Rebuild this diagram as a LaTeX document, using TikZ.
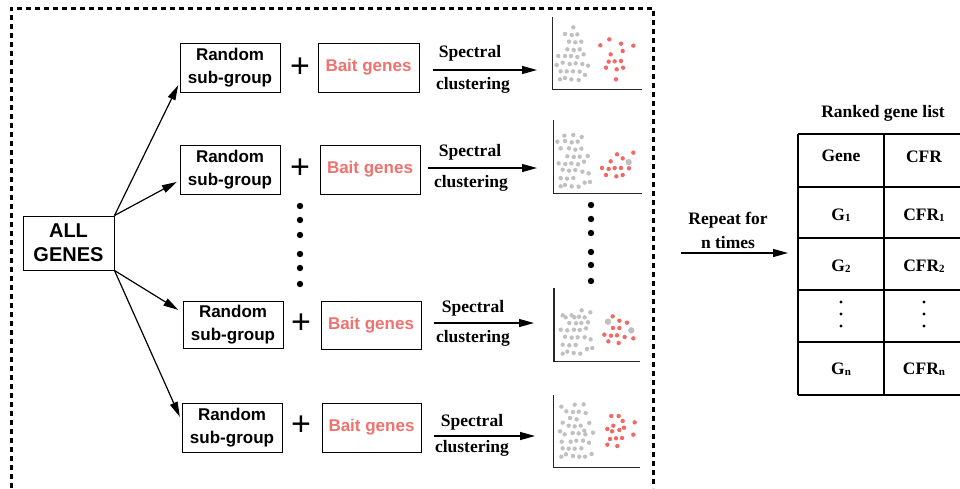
\documentclass[tikz,border=0pt]{standalone}
\usepackage{fontspec}
\setmainfont{Liberation Serif}
\newfontfamily\arialfont{Liberation Sans}
\usetikzlibrary{arrows.meta}
\definecolor{baitred}{RGB}{240,114,110}
\definecolor{dotgray}{RGB}{192,192,192}
\definecolor{dotred}{RGB}{243,104,100}
\newcommand{\lowidx}[1]{\raisebox{-1pt}{\fontsize{11}{11}\selectfont #1}}

\begin{document}
\begin{tikzpicture}[x=1pt, y=-1pt,
    grpbox/.style={draw, line width=1pt, minimum width=100pt, minimum height=49pt,
      inner sep=0pt, align=center, font=\arialfont\bfseries\fontsize{17}{23}\selectfont},
    baitbox/.style={grpbox, text=baitred},
    pluslbl/.style={font=\arialfont\fontsize{34}{34}\selectfont, inner sep=0pt},
    txt/.style={font=\bfseries\fontsize{17.5}{24}\selectfont, inner sep=0pt, align=center},
    arr/.style={-{Triangle[length=15pt,width=8pt]}, line width=1.2pt}]
  \useasboundingbox (0,0) rectangle (960,488);

  % dotted frame, open at the bottom
  \draw[line width=3pt, dash pattern=on 5pt off 4pt] (11,488) -- (11,8) -- (653,8) -- (653,488);

  \node[grpbox, minimum width=91pt, minimum height=54pt,
    font=\arialfont\bfseries\fontsize{20}{24}\selectfont] (all) at (68.5,243) {ALL\\GENES};

  % row 1
  \node[grpbox] (rsg1) at (230,67.5) {Random\\sub-group};
  \node[pluslbl] (plus1) at (300,68) {+};
  \node[baitbox, minimum width=101pt] (bait1) at (368.5,67.5) {Bait genes};
  \coordinate (sc1) at (537,70);
  \draw[arr, shorten <=13pt] (bait1.east |- sc1) -- (sc1);
  \node[txt] (spec1) at (470,53) {Spectral};
  \node[txt] (clus1) at (473,85) {clustering};

  % row 2
  \node[grpbox] (rsg2) at (230,169.5) {Random\\sub-group};
  \node[pluslbl] (plus2) at (300,169) {+};
  \node[baitbox] (bait2) at (370,169.5) {Bait genes};
  \coordinate (sc2) at (537,168);
  \draw[arr, shorten <=7pt] (bait2.east |- sc2) -- (sc2);
  \node[txt] (spec2) at (470,152) {Spectral};
  \node[txt] (clus2) at (471,183) {clustering};

  % row 3
  \node[grpbox, minimum height=47pt] (rsg3) at (233,324.5) {Random\\sub-group};
  \node[pluslbl] (plus3) at (301,324) {+};
  \node[baitbox, minimum height=48pt] (bait3) at (371,325) {Bait genes};
  \coordinate (sc3) at (534,323);
  \draw[arr, shorten <=12pt] (bait3.east |- sc3) -- (sc3);
  \node[txt] (spec3) at (473,308) {Spectral};
  \node[txt] (clus3) at (473,338) {clustering};

  % row 4
  \node[grpbox] (rsg4) at (232,427.5) {Random\\sub-group};
  \node[pluslbl] (plus4) at (301,426) {+};
  \node[baitbox, minimum width=99pt] (bait4) at (371.5,427.5) {Bait genes};
  \coordinate (sc4) at (535,436);
  \draw[arr, shorten <=12pt] (bait4.east |- sc4) -- (sc4);
  \node[txt] (spec4) at (472,422) {Spectral};
  \node[txt] (clus4) at (472,448) {clustering};

  % fan out
  \draw[arr, shorten >=3pt] (all.north east) -- ([yshift=10pt]rsg1.south west);
  \draw[arr, shorten >=3pt] (all.north east) -- ([yshift=-11pt]rsg2.west);
  \draw[arr, shorten >=5pt] (all.south east) -- ([yshift=12pt]rsg3.west);
  \draw[arr, shorten >=4pt] (all.south east) -- ([yshift=7pt]rsg4.west);

  % vertical ellipses
  \foreach \y in {206,220,235,254,268,284} \fill (300,\y) circle (3.2);
  \foreach \y in {205,219,233,252,265,281} \fill (591,\y) circle (3.2);

  % scatter plots
  \begin{scope}[xshift=540pt, yshift=-10pt, x=0.3333pt, y=-0.3333pt]
    \draw[line width=1.2pt, black!85] (37,20) -- (37,238) -- (305,238);
    \foreach \p in {(100,52),(75,72),(95,75),(112,73),(87,95),(106,97),(124,95),(82,118),(101,120),(119,118),(55,138),(75,138),(93,138),(112,141),(131,133),(50,165),(68,158),(89,162),(107,160),(127,162),(144,167),(62,184),(80,184),(99,184),(119,185),(135,195),(60,208),(75,204),(94,208),(116,210)}
      \fill[dotgray] \p circle (6.6);
    \foreach \p in {(181,106),(208,88),(243,101),(280,107),(248,123),(212,133),(206,155),(224,154),(243,153),(198,173),(230,178),(249,173),(228,208)}
      \fill[dotred] \p circle (6.6);
  \end{scope}
  \begin{scope}[xshift=540pt, yshift=-115pt, x=0.3333pt, y=-0.3333pt]
    \draw[line width=1.2pt, black!85] (40,15) -- (40,235) -- (305,235);
    \foreach \p in {(73,62),(100,60),(125,66),(52,80),(75,78),(95,82),(113,80),(62,100),(87,100),(106,104),(124,101),(82,124),(101,126),(119,125),(143,123),(56,145),(76,147),(94,145),(114,148),(132,140),(68,164),(87,167),(106,165),(127,170),(146,175),(62,189),(81,191),(100,189),(134,203),(150,201),(62,214),(75,210),(95,214),(116,215)}
      \fill[dotgray] \p circle (6.6);
    \fill[dotgray] (266,141) circle (9.5);
    \foreach \p in {(231,118),(280,113),(212,139),(248,130),(186,159),(206,162),(224,159),(243,159),(267,160),(198,180),(229,184),(248,180)}
      \fill[dotred] \p circle (6.6);
  \end{scope}
  \begin{scope}[xshift=540pt, yshift=-285pt, x=0.3333pt, y=-0.3333pt]
    \draw[line width=1.2pt, black!85] (42,10) -- (42,230) -- (300,230);
    \foreach \p in {(125,76),(68,91),(77,97),(95,91),(103,97),(117,95),(134,97),(151,82),(88,114),(108,115),(124,114),(144,112),(62,134),(82,136),(102,134),(119,135),(138,130),(75,155),(95,158),(113,157),(134,157),(152,163),(68,179),(88,181),(107,180),(141,192),(157,189),(68,206),(82,200),(101,204),(121,206)}
      \fill[dotgray] \p circle (6.6);
    \fill[dotgray] (204,110) circle (9.5);
    \fill[dotgray] (274,136) circle (9.5);
    \foreach \p in {(218,94),(238,107),(261,113),(219,129),(238,129),(193,149),(213,152),(231,151),(254,156),(280,160),(205,169),(236,174)}
      \fill[dotred] \p circle (6.6);
  \end{scope}
  \begin{scope}[xshift=540pt, yshift=-390pt, x=0.3333pt, y=-0.3333pt]
    \draw[line width=1.2pt, black!85] (40,15) -- (40,232) -- (300,232);
    \foreach \p in {(64,50),(104,44),(131,43),(79,64),(99,66),(116,65),(137,69),(90,84),(110,88),(68,98),(86,107),(104,109),(122,107),(148,99),(60,124),(74,133),(98,129),(116,130),(133,122),(136,133),(159,128),(65,155),(92,155),(109,152),(129,152),(147,158),(68,175),(86,176),(104,176),(124,175),(78,193),(155,192),(64,200),(99,198),(118,200),(135,200)}
      \fill[dotgray] \p circle (6.6);
    \foreach \p in {(214,78),(236,78),(248,93),(284,97),(220,107),(238,120),(252,113),(202,117),(216,124),(280,134),(210,147),(228,145),(246,144),(202,164),(232,168)}
      \fill[dotred] \p circle (6.6);
  \end{scope}

  % repeat arrow
  \node[txt] (rep) at (728,230) {Repeat for\\n times};
  \coordinate (repA) at (681,253);
  \coordinate (repB) at (788,253);
  \draw[arr] (repA) -- (repB);

  % ranked table
  \node[txt] (title) at (883,113) {Ranked gene list};
  \draw[line width=1.6pt] (798,134) -- (960,134) (798,187) -- (960,187) (798,238) -- (960,238)
    (798,290) -- (960,290) (798,342) -- (960,342) (798,395) -- (960,395);
  \draw[line width=1.6pt] (798,134) -- (798,395) (884,134) -- (884,395);
  \node[txt] (hgene) at (841,156) {Gene};
  \node[txt] (hcfr) at (924,156.5) {CFR};
  \node[txt] (g1) at (841,215) {G\lowidx{1}};
  \node[txt] (c1) at (924,215) {CFR\lowidx{1}};
  \node[txt] (g2) at (841,266.5) {G\lowidx{2}};
  \node[txt] (c2) at (924,266.5) {CFR\lowidx{2}};
  \node[txt] (gn) at (841,369) {G\lowidx{n}};
  \node[txt] (cn) at (924,369) {CFR\lowidx{n}};
  \foreach \y in {302,314,326} {
    \fill (841,\y) circle (1.6);
    \fill (924,\y) circle (1.6);
  }
\end{tikzpicture}
\end{document}
